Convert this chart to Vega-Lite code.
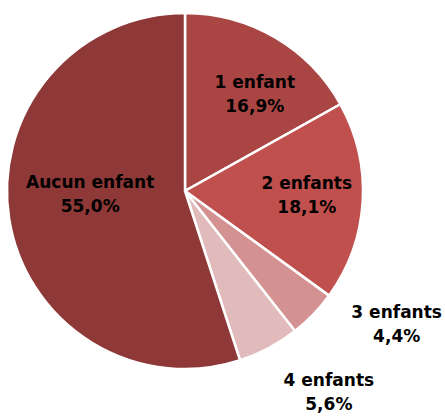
{
  "$schema": "https://vega.github.io/schema/vega-lite/v6.json",
  "width": 370,
  "height": 382,
  "autosize": "none",
  "padding": {"left": 0, "top": 0, "right": 75, "bottom": 35},
  "background": "white",
  "config": {"view": {"stroke": null}},
  "data": {
    "values": [
      {"cat": "1 enfant", "pct": 16.9, "label": "1 enfant\n16,9%"},
      {"cat": "2 enfants", "pct": 18.1, "label": "2 enfants\n18,1%"},
      {"cat": "3 enfants", "pct": 4.4, "label": "3 enfants\n4,4%"},
      {"cat": "4 enfants", "pct": 5.6, "label": "4 enfants\n5,6%"},
      {"cat": "Aucun enfant", "pct": 55.0, "label": "Aucun enfant\n55,0%"}
    ]
  },
  "encoding": {
    "theta": {"field": "pct", "type": "quantitative", "stack": true},
    "detail": {"field": "cat", "type": "nominal"}
  },
  "layer": [
    {
      "mark": {"type": "arc", "outerRadius": 178, "stroke": "white", "strokeWidth": 2.5},
      "encoding": {
        "color": {
          "field": "cat",
          "type": "nominal",
          "legend": null,
          "scale": {
            "domain": ["1 enfant", "2 enfants", "3 enfants", "4 enfants", "Aucun enfant"],
            "range": ["#A94644", "#C0504D", "#D39291", "#E1BBBB", "#8E3937"]
          }
        }
      }
    },
    {
      "mark": {"type": "text", "radius": 120, "dx": 9, "dy": -5, "font": "DejaVu Sans", "fontWeight": "bold", "fontSize": 17, "lineBreak": "\n", "lineHeight": 24, "align": "center", "baseline": "middle", "fill": "black"},
      "encoding": {"text": {"condition": {"test": "datum.cat === '1 enfant'", "field": "label"}, "value": ""}}
    },
    {
      "mark": {"type": "text", "radius": 122, "dx": 0, "dy": -14, "font": "DejaVu Sans", "fontWeight": "bold", "fontSize": 17, "lineBreak": "\n", "lineHeight": 24, "align": "center", "baseline": "middle", "fill": "black"},
      "encoding": {"text": {"condition": {"test": "datum.cat === '2 enfants'", "field": "label"}, "value": ""}}
    },
    {
      "mark": {"type": "text", "radius": 230, "dx": 46, "dy": -38, "font": "DejaVu Sans", "fontWeight": "bold", "fontSize": 17, "lineBreak": "\n", "lineHeight": 24, "align": "center", "baseline": "middle", "fill": "black"},
      "encoding": {"text": {"condition": {"test": "datum.cat === '3 enfants'", "field": "label"}, "value": ""}}
    },
    {
      "mark": {"type": "text", "radius": 210, "dx": 45, "dy": 5, "font": "DejaVu Sans", "fontWeight": "bold", "fontSize": 17, "lineBreak": "\n", "lineHeight": 24, "align": "center", "baseline": "middle", "fill": "black"},
      "encoding": {"text": {"condition": {"test": "datum.cat === '4 enfants'", "field": "label"}, "value": ""}}
    },
    {
      "mark": {"type": "text", "radius": 96, "dx": 0, "dy": -23, "font": "DejaVu Sans", "fontWeight": "bold", "fontSize": 17, "lineBreak": "\n", "lineHeight": 24, "align": "center", "baseline": "middle", "fill": "black"},
      "encoding": {"text": {"condition": {"test": "datum.cat === 'Aucun enfant'", "field": "label"}, "value": ""}}
    }
  ]
}
